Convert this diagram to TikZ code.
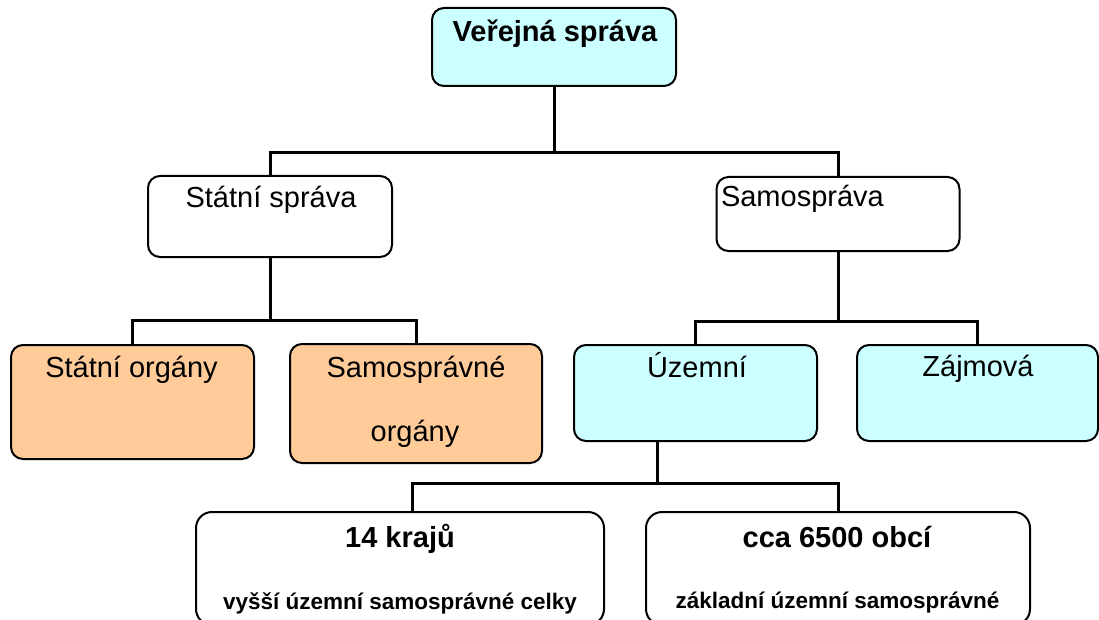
\documentclass[tikz,border=0pt]{standalone}
\usepackage{fontspec}
\setmainfont{Liberation Sans}
\definecolor{cyanfill}{HTML}{CCFFFF}
\definecolor{tanfill}{HTML}{FFCC99}
\tikzset{
  box/.style={draw=black, line width=2pt, rounded corners=12pt, inner sep=0pt, outer sep=0pt},
  conn/.style={draw=black, line width=3pt},
  lbl/.style={inner sep=0pt, outer sep=0pt, anchor=base, font=\fontsize{29}{34}\selectfont},
  blbl/.style={lbl, font=\fontsize{29}{34}\selectfont\bfseries},
  slbl/.style={lbl, font=\fontsize{22.5}{27}\selectfont\bfseries},
}
\begin{document}
\begin{tikzpicture}[x=1pt,y=-1pt]
\useasboundingbox (0,0) rectangle (1099,620);
\clip (0,0) rectangle (1099,620);
\fill[white] (0,0) rectangle (1099,620);

% boxes
\node[box, fill=cyanfill, minimum width=244pt, minimum height=78pt] (top) at (554,47) {};
\node[box, fill=white, minimum width=244pt, minimum height=81pt] (ss) at (270,216.5) {};
\node[box, fill=white, minimum width=243pt, minimum height=74pt] (sam) at (838,214) {};
\node[box, fill=tanfill, minimum width=243pt, minimum height=114pt] (so) at (132.5,402) {};
\node[box, fill=tanfill, minimum width=252pt, minimum height=119pt] (sorg) at (416,403.5) {};
\node[box, fill=cyanfill, minimum width=243pt, minimum height=96pt] (uz) at (695.5,393) {};
\node[box, fill=cyanfill, minimum width=241pt, minimum height=96pt] (zaj) at (977.5,393) {};
\node[box, fill=white, rounded corners=16pt, minimum width=408pt, minimum height=113pt] (kraj) at (400,568.5) {};
\node[box, fill=white, rounded corners=16pt, minimum width=384pt, minimum height=113pt] (obce) at (838,568.5) {};

% connectors
\coordinate (b1) at (554,152.5);
\draw[conn] (top.south) -- (b1);
\draw[conn] (ss.north) |- (b1) -| (sam.north);

\coordinate (b2) at (270,320);
\draw[conn] (ss.south) -- (b2);
\draw[conn] (so.north) |- (b2) -| (sorg.north);

\coordinate (b3) at (838,321);
\draw[conn] (sam.south) -- (b3);
\draw[conn] (uz.north) |- (b3) -| (zaj.north);

\coordinate (b4) at (657,483);
\draw[conn] ([xshift=-38.5pt]uz.south) -- (b4);
\draw[conn] ([xshift=12pt]kraj.north) |- (b4) -| (obce.north);

% texts
\node[blbl] (t-top) at (555,42) {Veřejná správa};
\node[lbl] (t-ss) at (271,208) {Státní správa};
\node[lbl, anchor=base west] (t-sam) at (721,207) {Samospráva};
\node[lbl] (t-so) at (131.5,377) {Státní orgány};
\node[lbl] (t-sorg1) at (416,377) {Samosprávné};
\node[lbl] (t-sorg2) at (415,441) {orgány};
\node[lbl] (t-uz) at (697,377) {Územní};
\node[lbl] (t-zaj) at (978,376) {Zájmová};
\node[blbl] (t-kraj1) at (400,547) {14 krajů};
\node[slbl] (t-kraj2) at (400,609) {vyšší územní samosprávné celky};
\node[blbl] (t-obce1) at (837,547) {cca 6500 obcí};
\node[slbl] (t-obce2) at (837.5,608) {základní územní samosprávné};
\end{tikzpicture}
\end{document}
